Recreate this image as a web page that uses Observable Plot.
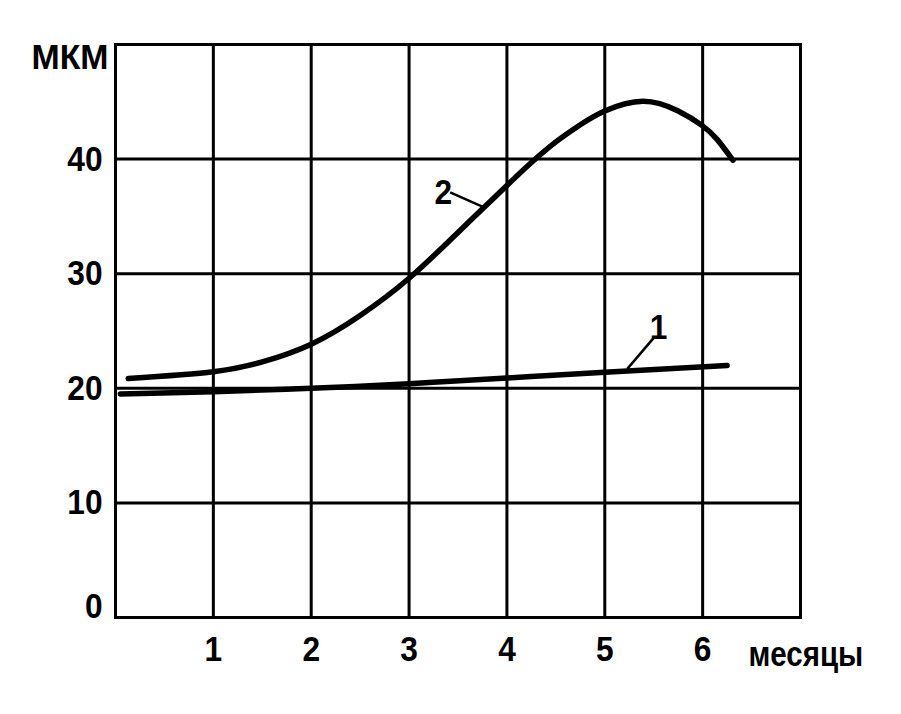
<!DOCTYPE html>
<html><head><meta charset="utf-8">
<script src="https://cdn.jsdelivr.net/npm/d3@7"></script>
<script src="https://cdn.jsdelivr.net/npm/@observablehq/plot@0.6"></script>
<style>
body{margin:0;background:#fff}
#chart svg{font-family:"Liberation Sans",Arial,sans-serif;}
</style>
</head><body><div id="chart"></div>
<script>
const xTicks = [1, 2, 3, 4, 5, 6];
const yTicks = [0, 10, 20, 30, 40];
const xLabel = "месяцы";
const yLabel = "МКМ";

const curve1Month = [0.05, 1, 2, 3, 4, 5, 6.25];
const curve1Value = [19.5, 19.7, 20.0, 20.4, 20.9, 21.4, 22.0];

const curve2Month = [0.13, 1, 1.5, 2, 2.5, 3, 3.5, 4, 4.25, 4.5, 4.75, 5, 5.39, 5.75, 6, 6.15, 6.31];
const curve2Value = [20.85, 21.45, 22.3, 23.85, 26.35, 29.6, 33.6, 37.7, 39.7, 41.5, 43.0, 44.2, 45.05, 44.2, 42.9, 41.7, 39.9];

const seriesLabels = ["1", "2"];
const labelMonth = [5.55, 3.35];
const labelValue = [25.3, 37.1];
const leaderFromMonth = [5.50, 3.42];
const leaderFromValue = [24.4, 37.1];
const leaderToMonth = [5.23, 3.76];
const leaderToValue = [21.7, 35.8];

const line1 = curve1Month.map((m, i) => ({m, v: curve1Value[i]}));
const line2 = curve2Month.map((m, i) => ({m, v: curve2Value[i]}));
const labels = seriesLabels.map((t, i) => ({t, m: labelMonth[i], v: labelValue[i],
  m1: leaderFromMonth[i], v1: leaderFromValue[i], m2: leaderToMonth[i], v2: leaderToValue[i]}));

const fs = 36;
const txt = {fontSize: fs, fill: "#000", fontWeight: "bold"};
const chart = Plot.plot({
  width: 901, height: 714,
  marginLeft: 115, marginRight: 101, marginTop: 44, marginBottom: 97,
  x: {domain: [0, 7], axis: null},
  y: {domain: [0, 50], axis: null},
  marks: [
    Plot.ruleX(xTicks, {stroke: "#000", strokeWidth: 3}),
    Plot.ruleY(yTicks.filter(d => d > 0), {stroke: "#000", strokeWidth: 3}),
    Plot.frame({stroke: "#000", strokeWidth: 3}),
    Plot.line(line1, {x: "m", y: "v", curve: "natural", stroke: "#000", strokeWidth: 5.5, strokeLinecap: "round"}),
    Plot.line(line2, {x: "m", y: "v", curve: "natural", stroke: "#000", strokeWidth: 5.5, strokeLinecap: "round"}),
    Plot.link(labels, {x1: "m1", y1: "v1", x2: "m2", y2: "v2", stroke: "#000", strokeWidth: 2.5}),
    Plot.text(labels, {x: "m", y: "v", text: "t", ...txt, className: "sq"}),
    Plot.text(xTicks, {x: d => d, y: () => 0, dy: 31.5, text: d => String(d), ...txt, className: "sq"}),
    Plot.text(yTicks.filter(d => d > 0), {x: () => 0, y: d => d, dx: -13, text: d => String(d), textAnchor: "end", ...txt, className: "sq"}),
    Plot.text(yTicks.filter(d => d === 0), {x: () => 0, y: d => d, dx: -13, dy: -11, text: d => String(d), textAnchor: "end", ...txt, className: "sq"}),
    Plot.text([xLabel], {x: () => 7, y: () => 0, dx: -52, dy: 37, text: d => d, textAnchor: "start", ...txt, className: "sx"}),
    Plot.text([yLabel], {x: () => 0, y: () => 50, dx: -7, dy: 13, text: d => d, textAnchor: "end", ...txt, className: "sy"})
  ]
});
function squeeze(cls, s) {
  d3.select(chart).selectAll("g." + cls + " text").each(function() {
    const el = d3.select(this);
    const t = el.attr("transform");
    if (t) {
      el.attr("transform", t + ` scale(${s},1)`);
    } else {
      const x = +el.attr("x") || 0, y = +el.attr("y") || 0;
      el.attr("x", null).attr("y", null).attr("transform", `translate(${x},${y}) scale(${s},1)`);
    }
  });
}
squeeze("sq", 0.88);
squeeze("sx", 0.82);
squeeze("sy", 0.94);
document.getElementById("chart").appendChild(chart);
</script>
</body></html>
